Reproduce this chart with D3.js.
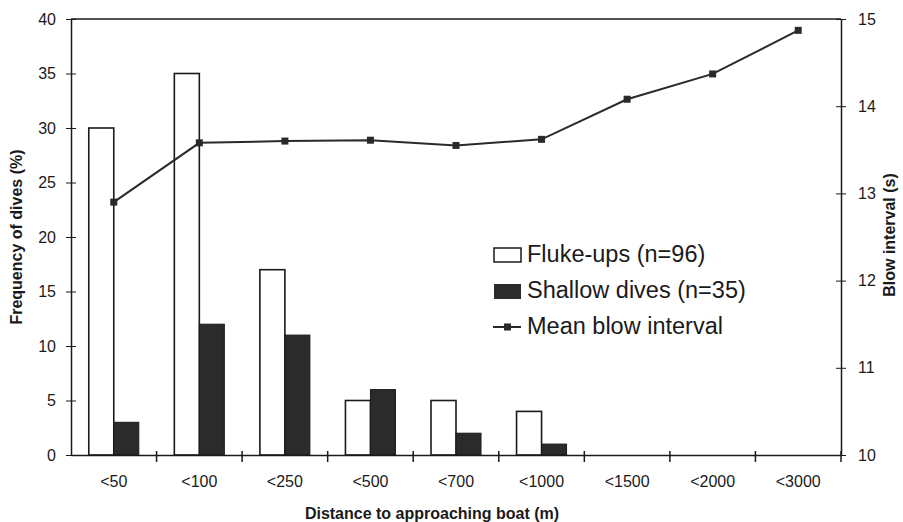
<!DOCTYPE html>
<html>
<head>
<meta charset="utf-8">
<script src="https://cdn.jsdelivr.net/npm/d3@7"></script>
<style>
  body { margin: 0; background: #fff; }
  text { font-family: "Liberation Sans", Arial, sans-serif; fill: #1a1a1a; }
</style>
</head>
<body>
<script>
// data
var categories = ["<50", "<100", "<250", "<500", "<700", "<1000", "<1500", "<2000", "<3000"];
var flukeUps = [30, 35, 17, 5, 5, 4, 0, 0, 0];
var shallowDives = [3, 12, 11, 6, 2, 1, 0, 0, 0];
var blowInterval = [12.9, 13.58, 13.6, 13.61, 13.55, 13.62, 14.08, 14.37, 14.87];
var leftTicks = [0, 5, 10, 15, 20, 25, 30, 35, 40];
var rightTicks = [10, 11, 12, 13, 14, 15];

var width = 903, height = 522;
var m = {left: 71, right: 841, top: 19, bottom: 455};
var ink = "#1a1a1a";

var svg = d3.select("body").append("svg")
    .attr("width", width)
    .attr("height", height);

var x = d3.scaleBand().domain(categories).range([m.left, m.right]);
var y = d3.scaleLinear().domain([0, 40]).range([m.bottom, m.top]);
var y2 = d3.scaleLinear().domain([10, 15]).range([m.bottom, m.top]);

var barW = 25;
var groupOff = (x.bandwidth() - 2 * barW) / 2;

// top frame line
svg.append("line")
    .attr("x1", m.left).attr("x2", m.right)
    .attr("y1", m.top).attr("y2", m.top)
    .attr("stroke", ink).attr("stroke-width", 1.5);

// bars
svg.selectAll("rect.fluke")
    .data(flukeUps)
    .enter().append("rect")
    .attr("class", "fluke")
    .attr("x", function(d, i) { return x(categories[i]) + groupOff; })
    .attr("y", function(d) { return y(d); })
    .attr("width", barW)
    .attr("height", function(d) { return y(0) - y(d); })
    .attr("fill", "#fff")
    .attr("stroke", ink)
    .attr("stroke-width", 1.6)
    .style("display", function(d) { return d > 0 ? null : "none"; });

svg.selectAll("rect.shallow")
    .data(shallowDives)
    .enter().append("rect")
    .attr("class", "shallow")
    .attr("x", function(d, i) { return x(categories[i]) + groupOff + barW; })
    .attr("y", function(d) { return y(d); })
    .attr("width", barW)
    .attr("height", function(d) { return y(0) - y(d); })
    .attr("fill", "#2b2b2b")
    .attr("stroke", ink)
    .attr("stroke-width", 1)
    .style("display", function(d) { return d > 0 ? null : "none"; });

// axes
var leftAxis = svg.append("g")
    .attr("transform", "translate(" + m.left + ",0)")
    .call(d3.axisLeft(y).tickValues(leftTicks).tickSize(5).tickSizeOuter(0).tickPadding(10));
leftAxis.selectAll(".tick line").attr("x2", 5).attr("x1", -5);

var rightAxis = svg.append("g")
    .attr("transform", "translate(" + m.right + ",0)")
    .call(d3.axisRight(y2).tickValues(rightTicks).tickFormat(d3.format("d"))
        .tickSize(5).tickSizeOuter(0).tickPadding(12));
rightAxis.selectAll(".tick line").attr("x1", -5).attr("x2", 5);

var bottomAxis = svg.append("g")
    .attr("transform", "translate(0," + m.bottom + ")")
    .call(d3.axisBottom(x).tickSize(0).tickSizeOuter(0).tickPadding(21));

// category boundary ticks
svg.selectAll("line.btick")
    .data(categories.slice(1).concat(["end"]))
    .enter().append("line")
    .attr("class", "btick")
    .attr("x1", function(d, i) { return m.left + (i + 1) * x.step(); })
    .attr("x2", function(d, i) { return m.left + (i + 1) * x.step(); })
    .attr("y1", m.bottom - 4).attr("y2", m.bottom + 7)
    .attr("stroke", ink).attr("stroke-width", 1.5);

svg.selectAll(".domain").attr("stroke", ink).attr("stroke-width", 1.5);
svg.selectAll(".tick line").attr("stroke", ink).attr("stroke-width", 1);
svg.selectAll(".tick text")
    .style("font-family", "'Liberation Sans', Arial, sans-serif")
    .style("font-size", "16px")
    .attr("fill", ink);

// mean blow interval line
var line = d3.line()
    .x(function(d, i) { return x(categories[i]) + x.bandwidth() / 2; })
    .y(function(d) { return y2(d); });

svg.append("path")
    .datum(blowInterval)
    .attr("d", line)
    .attr("fill", "none")
    .attr("stroke", "#2a2a2a")
    .attr("stroke-width", 2);

svg.selectAll("rect.pt")
    .data(blowInterval)
    .enter().append("rect")
    .attr("class", "pt")
    .attr("x", function(d, i) { return x(categories[i]) + x.bandwidth() / 2 - 3.5; })
    .attr("y", function(d) { return y2(d) - 3.5; })
    .attr("width", 7).attr("height", 7)
    .attr("fill", "#2a2a2a");

// axis titles
svg.append("text")
    .attr("transform", "translate(22,237) rotate(-90)")
    .attr("text-anchor", "middle")
    .style("font-size", "16px").style("font-weight", "bold")
    .text("Frequency of dives (%)");

svg.append("text")
    .attr("transform", "translate(895,235) rotate(-90)")
    .attr("text-anchor", "middle")
    .style("font-size", "16px").style("font-weight", "bold")
    .text("Blow interval (s)");

svg.append("text")
    .attr("x", 432).attr("y", 519)
    .attr("text-anchor", "middle")
    .style("font-size", "16px").style("font-weight", "bold")
    .text("Distance to approaching boat (m)");

// legend
var legend = svg.append("g").attr("transform", "translate(494,0)");
legend.append("rect").attr("x", 0).attr("y", 248).attr("width", 27).attr("height", 14)
    .attr("fill", "#fff").attr("stroke", ink).attr("stroke-width", 1.5);
legend.append("rect").attr("x", 0).attr("y", 284).attr("width", 27).attr("height", 15)
    .attr("fill", "#2b2b2b");
legend.append("line").attr("x1", -1).attr("x2", 27).attr("y1", 327).attr("y2", 327)
    .attr("stroke", "#2a2a2a").attr("stroke-width", 2);
legend.append("rect").attr("x", 10).attr("y", 323.5).attr("width", 7).attr("height", 7)
    .attr("fill", "#2a2a2a");

var legendText = ["Fluke-ups (n=96)", "Shallow dives (n=35)", "Mean blow interval"];
legend.selectAll("text.lg")
    .data(legendText)
    .enter().append("text")
    .attr("class", "lg")
    .attr("x", 33)
    .attr("y", function(d, i) { return 262 + i * 36; })
    .style("font-size", "23.5px")
    .text(function(d) { return d; });
</script>
</body>
</html>
